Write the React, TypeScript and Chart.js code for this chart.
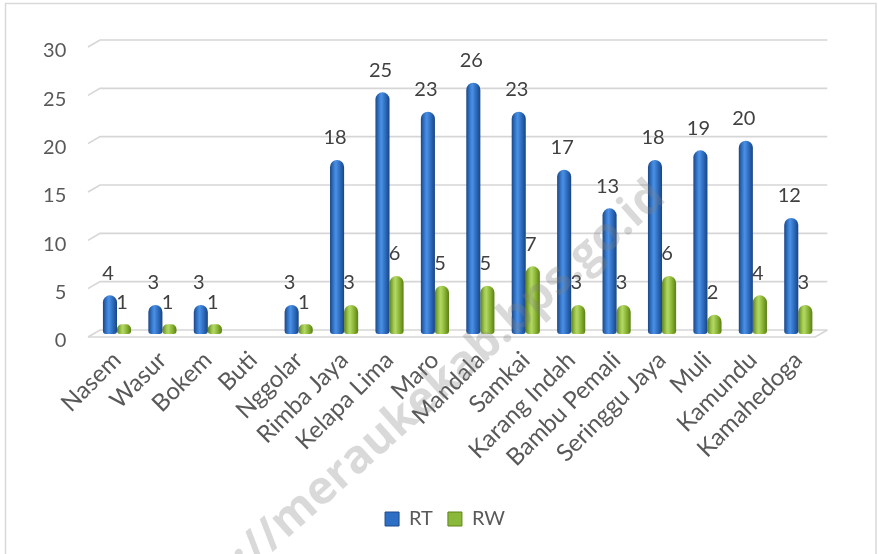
import React, { useEffect, useRef } from "react";
import { Chart, registerables } from "chart.js";

Chart.register(...registerables);

const categories = [
  "Nasem", "Wasur", "Bokem", "Buti", "Nggolar", "Rimba Jaya", "Kelapa Lima", "Maro",
  "Mandala", "Samkai", "Karang Indah", "Bambu Pemali", "Seringgu Jaya", "Muli", "Kamundu", "Kamahedoga",
];
const rtValues: (number | null)[] = [4, 3, 3, null, 3, 18, 25, 23, 26, 23, 17, 13, 18, 19, 20, 12];
const rwValues: (number | null)[] = [1, 1, 1, null, 1, 3, 6, 5, 5, 7, 3, 3, 6, 2, 4, 3];
const yTicks = [0, 5, 10, 15, 20, 25, 30];
const seriesNames = ["RT", "RW"];
const watermarkText = "http://meraukekab.bps.go.id";

const FONT = "Lato, 'Open Sans', sans-serif";
const CAT_PCT = 0.62;

const palettes = [
  { solid: "#2d6fc4", edge: "#1d4a8a", stops: ["#1b4785", "#3a80d6", "#4b90e4", "#2b69bb", "#1a4580"] },
  { solid: "#8ab83a", edge: "#5f8419", stops: ["#5f8419", "#a3cc52", "#b2d865", "#86b030", "#5a7e16"] },
];

function barFill(ctx: any) {
  const ds = ctx.datasetIndex ?? 0;
  const pal = palettes[ds];
  if (ctx.type !== "data") return pal.solid;
  const chart = ctx.chart;
  const xs = chart.scales?.x;
  if (!xs || !chart.chartArea) return pal.solid;
  const c = xs.getPixelForValue(ctx.dataIndex);
  const catW = xs.width / categories.length;
  const w = (catW * CAT_PCT) / 2;
  const x0 = ds === 0 ? c - w : c;
  const x1 = x0 + w;
  const g = chart.ctx.createLinearGradient(x0, 0, x1, 0);
  const pos = [0, 0.3, 0.42, 0.72, 1];
  pal.stops.forEach((s, i) => g.addColorStop(pos[i], s));
  return g;
}

const framePlugin = {
  id: "frame",
  afterLayout(chart: any) {
    const lg = chart.legend;
    if (lg) {
      const shift = 445 - (lg.left + lg.right) / 2;
      lg.left += shift;
      lg.right += shift;
    }
  },
  beforeDraw(chart: any) {
    const { ctx, width, height } = chart;
    ctx.save();
    ctx.fillStyle = "#ffffff";
    ctx.fillRect(0, 0, width, height);
    ctx.strokeStyle = "#d9d9d9";
    ctx.lineWidth = 1.5;
    ctx.strokeRect(5.5, 3.5, width - 7.5, height + 10);
    ctx.restore();
  },
};

const grid3dPlugin = {
  id: "grid3d",
  beforeDatasetsDraw(chart: any) {
    const { ctx, chartArea } = chart;
    const ys = chart.scales.y;
    const L = chartArea.left;
    const R = chartArea.right;
    ctx.save();
    ctx.strokeStyle = "#d6d6d6";
    ctx.lineWidth = 1.6;
    yTicks.forEach((v) => {
      const p = ys.getPixelForValue(v);
      ctx.beginPath();
      ctx.moveTo(L - 6.3, p + 3);
      ctx.lineTo(L + 5.7, p - 4);
      ctx.lineTo(R + 6.3, p - 4);
      ctx.stroke();
    });
    const p0 = ys.getPixelForValue(0);
    ctx.beginPath();
    ctx.moveTo(L - 6.3, p0 + 3);
    ctx.lineTo(R - 5.7, p0 + 3);
    ctx.lineTo(R + 6.3, p0 - 4);
    ctx.stroke();
    ctx.restore();
  },
};

const valueLabelPlugin = {
  id: "valueLabels",
  afterDatasetsDraw(chart: any) {
    const { ctx } = chart;
    ctx.save();
    ctx.font = `20px ${FONT}`;
    ctx.fillStyle = "#404040";
    ctx.textAlign = "center";
    ctx.textBaseline = "middle";
    chart.data.datasets.forEach((ds: any, di: number) => {
      const meta = chart.getDatasetMeta(di);
      meta.data.forEach((el: any, i: number) => {
        const v = ds.data[i];
        if (v === null || v === undefined) return;
        ctx.fillText(String(v), el.x - 2, el.y - 22);
      });
    });
    ctx.restore();
  },
};

const watermarkPlugin = {
  id: "watermark",
  afterDraw(chart: any) {
    const { ctx } = chart;
    ctx.save();
    ctx.translate(412, 410);
    ctx.rotate((-41.7 * Math.PI) / 180);
    ctx.font = `bold 46px 'Open Sans', sans-serif`;
    ctx.fillStyle = "rgba(128,128,128,0.3)";
    ctx.textAlign = "center";
    ctx.textBaseline = "middle";
    ctx.fillText(watermarkText, 0, 0);
    ctx.restore();
  },
};

export default function App() {
  const ref = useRef<HTMLCanvasElement | null>(null);

  useEffect(() => {
    if (!ref.current) return;
    Chart.defaults.font.family = FONT;
    const chart = new Chart(ref.current, {
      type: "bar",
      data: {
        labels: categories,
        datasets: [
          {
            label: seriesNames[0],
            data: rtValues,
            backgroundColor: barFill,
            borderWidth: 0,
            borderSkipped: false,
            borderRadius: { topLeft: 7, topRight: 7, bottomLeft: 3, bottomRight: 3 },
            categoryPercentage: CAT_PCT,
            barPercentage: 1,
          },
          {
            label: seriesNames[1],
            data: rwValues,
            backgroundColor: barFill,
            borderWidth: 0,
            borderSkipped: false,
            borderRadius: { topLeft: 7, topRight: 7, bottomLeft: 3, bottomRight: 3 },
            categoryPercentage: CAT_PCT,
            barPercentage: 1,
          },
        ],
      },
      options: {
        responsive: false,
        animation: false,
        layout: { padding: { left: 0, right: 57, top: 44, bottom: 15 } },
        plugins: {
          legend: {
            position: "bottom",
            labels: {
              boxWidth: 14,
              boxHeight: 14,
              padding: 15,
              color: "#595959",
              font: { size: 20, family: FONT },
              generateLabels: (chart: any) =>
                chart.data.datasets.map((ds: any, i: number) => ({
                  text: ds.label,
                  fillStyle: palettes[i].solid,
                  strokeStyle: palettes[i].edge,
                  lineWidth: 1,
                  fontColor: "#595959",
                  hidden: !chart.isDatasetVisible(i),
                  datasetIndex: i,
                })),
            },
          },
          tooltip: { enabled: false },
        },
        scales: {
          x: {
            grid: { display: false, drawTicks: false },
            border: { display: false },
            ticks: {
              autoSkip: false,
              maxRotation: 45,
              minRotation: 45,
              padding: 12,
              color: "#595959",
              font: { size: 24, family: FONT },
            },
            afterFit: (s: any) => {
              s.height = 160;
            },
          },
          y: {
            min: 0,
            max: 30,
            grid: { display: false, drawTicks: false },
            border: { display: false },
            afterBuildTicks: (s: any) => {
              s.ticks = yTicks.map((v) => ({ value: v }));
            },
            ticks: {
              padding: 28,
              labelOffset: 7,
              color: "#595959",
              font: { size: 20, family: FONT },
            },
            afterFit: (s: any) => {
              s.width = 94.3;
            },
          },
        },
      },
      plugins: [framePlugin, grid3dPlugin, valueLabelPlugin, watermarkPlugin],
    } as any);
    return () => chart.destroy();
  }, []);

  return (
    <div style={{ position: "fixed", left: 0, top: 0, width: 878, height: 554, background: "#fff" }}>
      <canvas ref={ref} width={878} height={554} style={{ width: 878, height: 554, display: "block" }} />
    </div>
  );
}
